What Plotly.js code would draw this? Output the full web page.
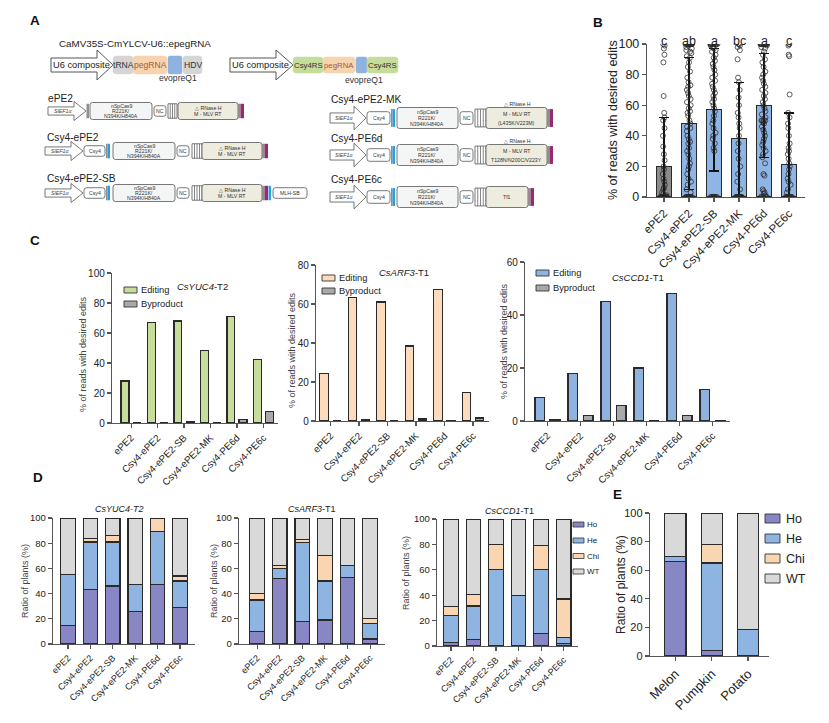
<!DOCTYPE html>
<html><head><meta charset="utf-8">
<script src="https://cdn.plot.ly/plotly-3.0.1.min.js"></script>
<style>body{margin:0;background:#fff}#chart{width:829px;height:723px}</style>
</head><body><div id="chart"></div>
<script>
// ---------------- DATA ----------------
const groups = ['ePE2','Csy4-ePE2','Csy4-ePE2-SB','Csy4-ePE2-MK','Csy4-PE6d','Csy4-PE6c'];
// Panel B
const bMean = [20,48,57,38,60,21];
const bErrPlus = [32,43,40,37,34,34];
const bErrMinus = [20,43,40,37,34,21];
const bLetters = ['c','ab','a','bc','a','c'];
const bPts_ePE2 = [100,99,97,93,88,66,55,52,50,45,40,33,28,24,20,18,15,12,10,8,6,5,3,2,1,0,0,0,0,0,0,0,0,0,0,0,0,0,0,0];
const bPts_Csy4ePE2 = [100,100,100,100,100,100,100,100,100,100,100,100,99,98,97,96,95,94,92,91,88,85,82,78,75,73,72,70,68,66,64,62,60,58,56,55,53,50,48,46,45,43,40,38,36,35,32,30,28,25,22,20,18,15,12,10,8,5,3,0,0,0,0,0,0,0,0,0,0,0,0];
const bPts_SB = [100,100,100,100,100,100,100,100,100,100,100,100,99,98,97,96,95,93,91,89,87,85,83,80,78,76,74,72,70,68,66,64,62,60,58,56,53,50,48,45,42,40,38,35,32,30,0,0,0,0,0,0,0,0,0,0];
const bPts_MK = [100,100,99,98,96,90,78,75,70,65,60,55,52,48,45,40,35,30,25,20,15,10,5,0,0,0,0,0,0,0,0,0,0,0,0];
const bPts_PE6d = [100,100,100,100,100,100,100,100,100,100,100,100,100,100,99,98,97,95,93,90,88,85,82,80,78,76,74,72,70,68,66,64,62,60,58,56,54,52,50,50,50,50,49,48,46,44,42,40,38,36,34,32,30,28,26,22,15,14,5,4,3,2,1,0,0,0,0,0];
const bPts_PE6c = [100,100,99,93,92,67,55,52,48,45,40,35,32,30,28,25,22,20,18,15,12,10,8,5,3,0,0,0,0,0,0,0,0,0,0,0,0,0];
// Panel C
const cYUC4_edit = [28,67,68,48.5,71,42.5];
const cYUC4_byp  = [0,0,1,0,2.5,7.5];
const cARF3_edit = [24.5,63.5,61,38.5,67.5,14.5];
const cARF3_byp  = [0,0.5,0,1,0.2,1.5];
const cCCD1_edit = [9,18,45,20,48,12];
const cCCD1_byp  = [0.5,2,6,0,2,0.3];
// Panel D
const dYUC4_Ho  = [15,43,46,26,47,29];
const dYUC4_He  = [40,38,35,21,42,21];
const dYUC4_Chi = [0,2.5,5,0,11,4];
const dYUC4_WT  = [45,16.5,14,53,0,46];
const dARF3_Ho  = [10,52,18,19,53,4];
const dARF3_He  = [25,8,62.5,31,9,12.5];
const dARF3_Chi = [5,2.5,2.5,20,0,3.5];
const dARF3_WT  = [60,37.5,17,30,38,80];
const dCCD1_Ho  = [3,5,0,0,10,2];
const dCCD1_He  = [21,26.5,60,40,50,5];
const dCCD1_Chi = [7,9,20,0,19,30];
const dCCD1_WT  = [69,59.5,20,60,21,63];
// Panel E
const crops = ['Melon','Pumpkin','Potato'];
const eHo  = [66,4,0];
const eHe  = [3.5,61,18.5];
const eChi = [0,13,0];
const eWT  = [30.5,22,81.5];
const classes = ['Ho','He','Chi','WT'];

// ---------------- HELPERS ----------------
const W=829, H=723;
const FONT='Liberation Sans, Arial, Helvetica, sans-serif';
const X=p=>p/W, Y=p=>1-p/H;
const shapes=[], anns=[];
function rect(x0,y0,x1,y1,fill,lc,lw){shapes.push({type:'rect',xref:'paper',yref:'paper',x0:X(x0),x1:X(x1),y0:Y(y1),y1:Y(y0),fillcolor:fill,line:{color:lc||fill,width:lw||0},layer:'above'});}
function lineS(x0,y0,x1,y1,c,w){shapes.push({type:'line',xref:'paper',yref:'paper',x0:X(x0),x1:X(x1),y0:Y(y0),y1:Y(y1),line:{color:c,width:w},layer:'above'});}
function rrect(x0,y0,x1,y1,r,fill,lc,lw){
  const p=`M${X(x0+r)},${Y(y0)} L${X(x1-r)},${Y(y0)} Q${X(x1)},${Y(y0)} ${X(x1)},${Y(y0+r)} L${X(x1)},${Y(y1-r)} Q${X(x1)},${Y(y1)} ${X(x1-r)},${Y(y1)} L${X(x0+r)},${Y(y1)} Q${X(x0)},${Y(y1)} ${X(x0)},${Y(y1-r)} L${X(x0)},${Y(y0+r)} Q${X(x0)},${Y(y0)} ${X(x0+r)},${Y(y0)} Z`;
  shapes.push({type:'path',xref:'paper',yref:'paper',path:p,fillcolor:fill,line:{color:lc,width:lw},layer:'above'});
}
function arrowS(x0,x1,yc,bh,hh,hx,lw){
  const p=`M${X(x0)},${Y(yc-bh)} L${X(hx)},${Y(yc-bh)} L${X(hx)},${Y(yc-hh)} L${X(x1)},${Y(yc)} L${X(hx)},${Y(yc+hh)} L${X(hx)},${Y(yc+bh)} L${X(x0)},${Y(yc+bh)} Z`;
  shapes.push({type:'path',xref:'paper',yref:'paper',path:p,fillcolor:'#fff',line:{color:'#555',width:lw||0.8},layer:'above'});
}
function txt(x,y,t,size,opt){
  const o=Object.assign({xref:'paper',yref:'paper',x:X(x),y:Y(y),text:t,showarrow:false,xanchor:'center',yanchor:'middle',borderpad:0,font:{size:size,color:'#222',family:FONT}},opt||{});
  if(opt&&opt.color){o.font.color=opt.color; delete o.color;}
  anns.push(o);
}
function drawParts(yc,h,parts){
  parts.forEach(p=>{
    const hf=p.hf||1, y0=yc-h*hf/2, y1=yc+h*hf/2;
    if(p.t==='arrow'){const hx=p.x1-12; arrowS(p.x0,p.x1,yc,h*0.24,h*0.56,hx); txt((p.x0+hx)/2+2,yc,'<i>SlEF1α</i>',5.3,{color:'#444'});}
    else if(p.t==='box'){rrect(p.x0,y0,p.x1,y1,p.r||2.5,p.fill||'#fff','#555',0.8);
      if(p.lines){const n=p.lines.length, sp=p.sp||4.8; p.lines.forEach((s,k)=>txt((p.x0+p.x1)/2,yc+(k-(n-1)/2)*sp+(p.dy||0),s,p.fs||5.2,{color:'#333'}));}}
    else if(p.t==='bar'){rect(p.x0,y0,p.x1,y1,p.color);}
    else if(p.t==='stripes'){rect(p.x0,y0,p.x1,y1,'#fff','#555',0.8);
      for(let k=1;k<=3;k++){const x=p.x0+(p.x1-p.x0)*k/4; lineS(x,y0,x,y1,'#666',0.8);}}
  });
}
const CAS=['nSpCas9','R221K/','N394K/H840A'];
const GREY='#8f8f8f', MAG='#972b70', CBLUE='#2b9fdb', CASF='#f4f5f5', RTF='#eeecdf';

// ---------------- PANEL A (schematic) ----------------
txt(58,43,'CaMV35S-CmYLCV-U6::epegRNA',9.8,{xanchor:'left'});
arrowS(51,113,65,7,15,97,1);
txt(81,65,'U6 composite',9.3);
rrect(113,56,133,74,3,'#d5d5d5','#d5d5d5',0.5); txt(123.5,65,'tRNA',8.6,{color:'#333'});
rrect(133,56,167,74,3,'#f8d3b0','#f8d3b0',0.5); txt(150,65,'pegRNA',8.6,{color:'#a0603a'});
rrect(168,56,182,74,2,'#8fb3e0','#8fb3e0',0.5);
rrect(183,56,202,74,3,'#d5d5d5','#d5d5d5',0.5); txt(192.5,65,'HDV',8.6,{color:'#333'});
txt(178,78,'evopreQ1',8.6,{color:'#333'});

arrowS(230,293,65,7,15,276,1);
txt(260,65,'U6 composite',9.3);
rrect(293,57,323,73,3,'#c6dc9a','#c6dc9a',0.5); txt(308,65,'Csy4RS',7.8,{color:'#333'});
rrect(323,57,355,73,3,'#f8d3b0','#f8d3b0',0.5); txt(339,65,'pegRNA',7.8,{color:'#a0603a'});
rrect(356,57,367,73,2,'#8fb3e0','#8fb3e0',0.5);
rrect(367,57,398,73,3,'#c6dc9a','#c6dc9a',0.5); txt(382.5,65,'Csy4RS',7.8,{color:'#333'});
txt(364,80,'evopreQ1',8.6,{color:'#333'});

// left constructs
const LBL=10.2;
txt(47,99,'ePE2',LBL,{xanchor:'left'});
drawParts(111,17,[
  {t:'arrow',x0:48,x1:86},
  {t:'bar',x0:86.5,x1:89,color:GREY,hf:0.85},
  {t:'box',x0:90,x1:152,fill:CASF,lines:CAS},
  {t:'box',x0:154,x1:166,hf:0.62,lines:['NC']},
  {t:'stripes',x0:168,x1:177,hf:0.85},
  {t:'box',x0:178,x1:238,fill:RTF,lines:['△ RNase H','M - MLV RT'],sp:6},
  {t:'bar',x0:238,x1:240.5,color:GREY,hf:0.85},
  {t:'bar',x0:240.5,x1:244,color:MAG,hf:0.85}
]);
const leftCsy4=[
  {t:'arrow',x0:45,x1:83},
  {t:'box',x0:84,x1:105,hf:0.62,lines:['Csy4']},
  {t:'bar',x0:106,x1:107.5,color:GREY,hf:0.85},
  {t:'bar',x0:107.5,x1:110,color:CBLUE,hf:0.85},
  {t:'box',x0:113,x1:175,fill:CASF,lines:CAS},
  {t:'box',x0:177,x1:189,hf:0.62,lines:['NC']},
  {t:'stripes',x0:192,x1:202,hf:0.85},
  {t:'box',x0:202,x1:262,fill:RTF,lines:['△ RNase H','M - MLV RT'],sp:6},
  {t:'bar',x0:262,x1:264.5,color:GREY,hf:0.85},
  {t:'bar',x0:264.5,x1:268,color:MAG,hf:0.85}
];
txt(46,137,'Csy4-ePE2',LBL,{xanchor:'left'});
drawParts(151,17,leftCsy4);
txt(46,178,'Csy4-ePE2-SB',LBL,{xanchor:'left'});
drawParts(193,17,leftCsy4.concat([
  {t:'bar',x0:268.5,x1:271,color:CBLUE,hf:0.85},
  {t:'box',x0:273,x1:307,hf:0.62,lines:['MLH-SB']}
]));
// right constructs
function rightParts(rtLines,rtEnd){
  return [
    {t:'arrow',x0:330,x1:366},
    {t:'box',x0:367,x1:390,hf:0.6,lines:['Csy4']},
    {t:'bar',x0:391,x1:392.5,color:GREY,hf:0.85},
    {t:'bar',x0:392.5,x1:395,color:CBLUE,hf:0.85},
    {t:'box',x0:397,x1:458,fill:CASF,lines:CAS,sp:5.8},
    {t:'box',x0:460,x1:473,hf:0.6,lines:['NC']},
    {t:'stripes',x0:475,x1:486,hf:0.85},
    {t:'box',x0:486,x1:rtEnd,fill:RTF,lines:rtLines,sp:9},
    {t:'bar',x0:rtEnd,x1:rtEnd+2.5,color:GREY,hf:0.85},
    {t:'bar',x0:rtEnd+2.5,x1:rtEnd+6,color:MAG,hf:0.85}
  ];
}
txt(330,100,'Csy4-ePE2-MK',LBL,{xanchor:'left'});
drawParts(118,21,rightParts(['M - MLV RT','(L435K/V223M)'],547));
txt(517,104,'△ RNase H',5.2,{color:'#333'});
txt(330,138,'Csy4-PE6d',LBL,{xanchor:'left'});
drawParts(155,21,rightParts(['M - MLV RT','T128N/N200C/V223Y'],547));
txt(517,141,'△ RNase H',5.2,{color:'#333'});
txt(330,179,'Csy4-PE6c',LBL,{xanchor:'left'});
drawParts(197,21,rightParts(['Tf1'],528));

// panel letters
[['A',35,20],['B',598,22],['C',35,241],['D',38,477],['E',617,494]].forEach(a=>txt(a[1],a[2],'<b>'+a[0]+'</b>',13.5,{color:'#111'}));

// ---------------- AXES ----------------
const AX={showline:true,linecolor:'#555',linewidth:1.2,ticks:'outside',ticklen:4,tickwidth:1.1,tickcolor:'#555',showgrid:false,zeroline:false,fixedrange:true};
function xa(x0,x1,range,vals,text,fs,anchor){return Object.assign({},AX,{domain:[X(x0),X(x1)],range:range,tickvals:vals,ticktext:text,tickangle:-45,tickfont:{size:fs,color:'#222',family:FONT},anchor:anchor});}
function ya(top,bot,range,dtick,fs,anchor){return Object.assign({},AX,{domain:[Y(bot),Y(top)],range:range,dtick:dtick,tick0:0,tickfont:{size:fs,color:'#222',family:FONT},anchor:anchor});}
const gIdx=groups.map((g,i)=>i);
const cIdx=crops.map((g,i)=>i);

const layout={
  width:W,height:H,margin:{l:0,r:0,t:0,b:0},paper_bgcolor:'#fff',plot_bgcolor:'rgba(0,0,0,0)',
  showlegend:false,barmode:'stack',font:{family:FONT,color:'#222'},
  xaxis: xa(647,805,[-0.68,5.64],gIdx,groups,11.5,'y'),
  yaxis: ya(44,197,[0,100],20,12.5,'x'),
  xaxis2: xa(112,278,[-0.72,5.55],gIdx,groups,9.8,'y2'),
  yaxis2: ya(273,423,[0,100],20,10,'x2'),
  xaxis3: xa(316,489,[-0.51,5.56],gIdx,groups,9.8,'y3'),
  yaxis3: ya(265,421,[0,80],20,10,'x3'),
  xaxis4: xa(525,730,[-0.68,5.53],gIdx,groups,9.8,'y4'),
  yaxis4: ya(262,421,[0,60],20,10,'x4'),
  xaxis5: xa(53,195,[-0.67,5.67],gIdx,groups,9,'y5'),
  yaxis5: ya(518,644,[0,100],20,9.5,'x5'),
  xaxis6: xa(239,385,[-0.8,5.66],gIdx,groups,9,'y6'),
  yaxis6: ya(518,644,[0,100],20,9.5,'x6'),
  xaxis7: xa(437,578,[-0.62,5.64],gIdx,groups,9,'y7'),
  yaxis7: ya(519,646,[0,100],20,9.5,'x7'),
  xaxis8: xa(650,769,[-0.70,2.58],cIdx,crops,13,'y8'),
  yaxis8: ya(513,656,[0,100],20,11,'x8'),
  shapes:shapes, annotations:anns
};

// ---------------- TRACES ----------------
const traces=[];
const LINE={color:'#2a2a2a',width:1.2};
// Panel B
traces.push({type:'bar',x:gIdx,y:bMean,width:0.6,xaxis:'x',yaxis:'y',
  marker:{color:['#8c8c8c','#8db5e5','#8db5e5','#8db5e5','#8db5e5','#8db5e5'],line:LINE},
  error_y:{type:'data',symmetric:false,array:bErrPlus,arrayminus:bErrMinus,color:'#111',thickness:1.3,width:5}});
[bPts_ePE2,bPts_Csy4ePE2,bPts_SB,bPts_MK,bPts_PE6d,bPts_PE6c].forEach((pts,i)=>{
  traces.push({type:'box',x0:i,y:pts,xaxis:'x',yaxis:'y',boxpoints:'all',jitter:0.6,pointpos:0,width:0.5,
    fillcolor:'rgba(0,0,0,0)',line:{width:0,color:'rgba(0,0,0,0)'},
    marker:{symbol:'circle-open',size:5,color:'rgba(40,40,40,0.75)',line:{width:1}},hoverinfo:'y'});
});
bLetters.forEach((l,i)=>anns.push({xref:'x',yref:'paper',x:i,y:Y(32),text:l,showarrow:false,font:{size:12.5,color:'#222',family:FONT}}));
txt(613,120,'% of reads with desired edits',12.5,{textangle:-90});

// Panel C
const cSets=[
  [cYUC4_edit,cYUC4_byp,'#c6dd9c','x2','y2'],
  [cARF3_edit,cARF3_byp,'#fcdcbd','x3','y3'],
  [cCCD1_edit,cCCD1_byp,'#8fb2e1','x4','y4']];
cSets.forEach(s=>{
  traces.push({type:'bar',x:gIdx.map(i=>i-0.23),y:s[0],width:0.3,xaxis:s[3],yaxis:s[4],marker:{color:s[2],line:LINE}});
  traces.push({type:'bar',x:gIdx.map(i=>i+0.23),y:s[1],width:0.3,xaxis:s[3],yaxis:s[4],marker:{color:'#a9a9a9',line:LINE}});
});
txt(202,287,'<i>CsYUC4</i>-T2',9.5);
txt(404,272,'<i>CsARF3</i>-T1',9.5);
txt(638,277,'<i>CsCCD1</i>-T1',9.5);
function legC(x,y1,y2,col){
  rect(x,y1-3,x+13,y1+3,col,'#333',0.9); txt(x+16,y1,'Editing',9.3,{xanchor:'left'});
  rect(x,y2-3,x+13,y2+3,'#a9a9a9','#333',0.9); txt(x+16,y2,'Byproduct',9.3,{xanchor:'left'});
}
legC(124,290,304,'#c6dd9c');
legC(322,278,291,'#fcdcbd');
legC(536,273,288,'#8fb2e1');
txt(83,354,'% of reads with desired edits',9,{textangle:-90,color:'#444'});
txt(292,350,'% of reads with desired edits',9,{textangle:-90,color:'#444'});
txt(504,341,'% of reads with desired edits',9,{textangle:-90,color:'#444'});

// Panel D & E
const CLS_COL={Ho:'#8886c4',He:'#8eb4e2',Chi:'#f9d5b2',WT:'#d9d9d9'};
const dSets=[
  [[dYUC4_Ho,dYUC4_He,dYUC4_Chi,dYUC4_WT],'x5','y5'],
  [[dARF3_Ho,dARF3_He,dARF3_Chi,dARF3_WT],'x6','y6'],
  [[dCCD1_Ho,dCCD1_He,dCCD1_Chi,dCCD1_WT],'x7','y7']];
dSets.forEach(s=>{
  s[0].forEach((vals,k)=>traces.push({type:'bar',x:gIdx,y:vals,width:0.65,xaxis:s[1],yaxis:s[2],name:classes[k],
    marker:{color:CLS_COL[classes[k]],line:LINE}}));
});
[eHo,eHe,eChi,eWT].forEach((vals,k)=>traces.push({type:'bar',x:cIdx,y:vals,width:0.58,xaxis:'x8',yaxis:'y8',name:classes[k],
  marker:{color:CLS_COL[classes[k]],line:LINE}}));
txt(119,509,'<i>CsYUC4-T2</i>',9);
txt(312,509,'<i>CsARF3</i>-T1',9);
txt(510,511,'<i>CsCCD1</i>-T1',9);
txt(25,581,'Ratio of plants (%)',9,{textangle:-90,color:'#444'});
txt(214,581,'Ratio of plants (%)',9,{textangle:-90,color:'#444'});
txt(406,573,'Ratio of plants (%)',9,{textangle:-90,color:'#444'});
txt(621,585,'Ratio of plants (%)',12,{textangle:-90});
// D3 legend
[524.5,540.5,556,571.5].forEach((y,k)=>{rect(573,y-2.5,584,y+2.5,CLS_COL[classes[k]],'#333',0.8); txt(586,y,classes[k],8,{xanchor:'left'});});
// E legend
[518.5,538.5,558.5,578.5].forEach((y,k)=>{rect(765,y-4.5,780,y+4.5,CLS_COL[classes[k]],'#333',0.9); txt(785,y,classes[k],12.5,{xanchor:'left'});});

Plotly.newPlot('chart',traces,layout,{staticPlot:true,displayModeBar:false});
</script></body></html>
